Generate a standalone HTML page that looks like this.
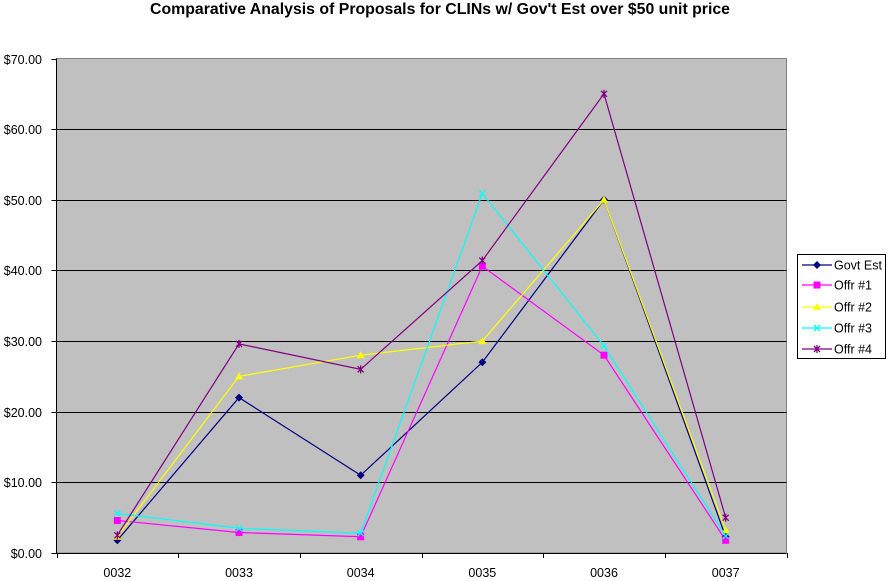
<!DOCTYPE html>
<html><head><meta charset="utf-8"><style>body{margin:0;background:#fff}svg{display:block}</style></head>
<body>
<svg id="c" width="889" height="581" xmlns="http://www.w3.org/2000/svg" font-family="Liberation Sans, sans-serif">
<text x="440" y="14" text-anchor="middle" font-size="15.5" font-weight="bold" textLength="580" lengthAdjust="spacingAndGlyphs">Comparative Analysis of Proposals for CLINs w/ Gov't Est over $50 unit price</text>
<rect x="56.5" y="58.5" width="730" height="494.5" fill="#c0c0c0" stroke="#808080"/>
<g id="grid" stroke="#000" stroke-width="1"></g>
<g id="lab" font-size="12.5" fill="#000"></g>
<g id="series"></g>
<rect x="797.5" y="254.5" width="88" height="104" fill="#fff" stroke="#000"/>
<g id="leg" font-size="12"></g>
</svg>
<script>
var NS="http://www.w3.org/2000/svg";
function el(p,t,a,txt){var e=document.createElementNS(NS,t);for(var k in a)e.setAttribute(k,a[k]);if(txt)e.textContent=txt;document.getElementById(p).appendChild(e);return e;}
var L=56.5,R=786.5,T=58.5,B=553;
for(var i=0;i<=7;i++){var y=Math.round(B-i*(B-T)/7)+0.5;
 if(i>0&&i<7)el('grid','line',{x1:L,x2:R,y1:y,y2:y});
 el('grid','line',{x1:L-5,x2:L,y1:y,y2:y});
 el('lab','text',{x:42,y:y+4.5,'text-anchor':'end'},'$'+(i*10)+'.00');}
el('grid','line',{x1:L,x2:R,y1:B+.5,y2:B+.5});
el('grid','line',{x1:L,x2:L,y1:T,y2:B+.5});
var cw=(R-L)/6,cats=['0032','0033','0034','0035','0036','0037'];
for(var i=0;i<=6;i++){var x=Math.round(L+i*cw)+0.5;el('grid','line',{x1:x,x2:x,y1:B,y2:B+5});}
cats.forEach(function(c,i){el('lab','text',{x:L+cw*(i+.5),y:577,'text-anchor':'middle'},c);});
var S=[
 ['Govt Est','#000080','d',[1.8,22,11,27,50,2.3]],
 ['Offr #1','#ff00ff','s',[4.6,2.9,2.3,40.6,28,1.8]],
 ['Offr #2','#ffff00','t',[2.3,25,28,30,50,3.2]],
 ['Offr #3','#00ffff','x',[5.6,3.5,2.8,50.9,29.3,2.4]],
 ['Offr #4','#800080','a',[2.5,29.6,26,41.4,65,5]]];
function mark(g,m,c,x,y){
 if(m=='d')el(g,'polygon',{points:(x)+','+(y-4)+' '+(x+4)+','+y+' '+x+','+(y+4)+' '+(x-4)+','+y,fill:c});
 else if(m=='s')el(g,'rect',{x:x-3.5,y:y-3.5,width:7,height:7,fill:c});
 else if(m=='t')el(g,'polygon',{points:x+','+(y-4)+' '+(x+4)+','+(y+3)+' '+(x-4)+','+(y+3),fill:c});
 else{el(g,'path',{d:'M'+(x-3)+' '+(y-3)+'L'+(x+3)+' '+(y+3)+'M'+(x+3)+' '+(y-3)+'L'+(x-3)+' '+(y+3)+(m=='a'?'M'+x+' '+(y-4)+'V'+(y+4):''),stroke:c,'stroke-width':1.3,fill:'none'});}
}
S.forEach(function(s,k){
 var pts=s[3].map(function(v,i){return [L+cw*(i+.5),B-v*(B-T)/70];});
 el('series','polyline',{points:pts.map(function(p){return p.join(',')}).join(' '),fill:'none',stroke:s[1],'stroke-width':1.2});
 pts.forEach(function(p){mark('series',s[2],s[1],p[0],p[1]);});
 var ly=[265,285,307,328,349][k];
 el('leg','line',{x1:802,x2:832,y1:ly,y2:ly,stroke:s[1],'stroke-width':1.3});
 mark('leg',s[2],s[1],817,ly);
 el('leg','text',{x:834,y:ly+4.5,'font-size':12.5},s[0]);
});
</script>
</body></html>
